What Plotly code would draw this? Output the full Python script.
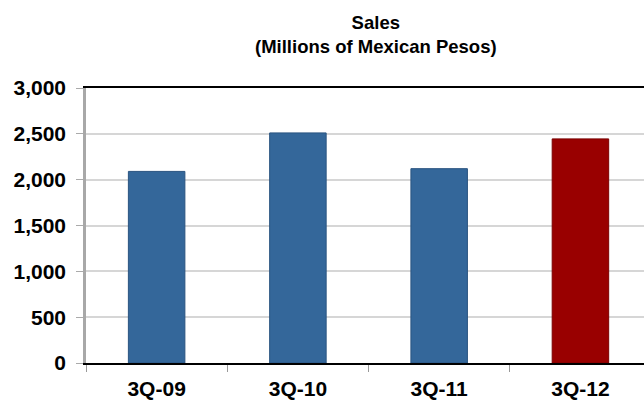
import plotly.graph_objects as go

# Quarterly sales, millions of Mexican pesos
quarters = ["3Q-09", "3Q-10", "3Q-11", "3Q-12"]
sales = [2090, 2510, 2120, 2445]
bar_colors = ["#34679a", "#34679a", "#34679a", "#990000"]
outline_colors = ["#2a5480", "#2a5480", "#2a5480", "#7a0000"]

y_ticks = [0, 500, 1000, 1500, 2000, 2500, 3000]
y_tick_text = ["0", "500", "1,000", "1,500", "2,000", "2,500", "3,000"]

FONT = "Liberation Sans, Arial, Helvetica, sans-serif"

fig = go.Figure(
    go.Bar(
        x=quarters,
        y=sales,
        marker=dict(color=bar_colors, line=dict(color=outline_colors, width=1)),
        width=0.4,
    )
)

fig.update_layout(
    width=644,
    height=402,
    margin=dict(l=86, r=0, t=88, b=39),
    paper_bgcolor="white",
    plot_bgcolor="white",
    showlegend=False,
    font=dict(family=FONT, color="black"),
)

# Two-line chart heading above the plot area
fig.add_annotation(
    text="<b>Sales<br>(Millions of Mexican Pesos)</b>",
    xref="paper",
    yref="paper",
    x=0.52,
    y=1,
    xanchor="center",
    yanchor="bottom",
    yshift=29,
    showarrow=False,
    align="center",
    font=dict(family=FONT, size=18.5, color="black"),
)

fig.update_xaxes(
    range=[-0.5, 3.45],
    automargin=False,
    showline=True,
    linecolor="black",
    linewidth=1.5,
    mirror=True,
    ticks="outside",
    tickson="boundaries",
    ticklen=7,
    tickcolor="#999999",
    showgrid=False,
    tickfont=dict(family=FONT, size=21, color="black", weight="bold"),
    ticklabelstandoff=6,
)

fig.update_yaxes(
    range=[0, 3000],
    tickvals=y_ticks,
    ticktext=y_tick_text,
    showline=True,
    linecolor="#a8a8a8",
    linewidth=2.5,
    ticks="outside",
    ticklen=7,
    tickcolor="#aaaaaa",
    showgrid=True,
    gridcolor="#d6d6d6",
    gridwidth=1.5,
    zeroline=False,
    tickfont=dict(family=FONT, size=21, color="black", weight="bold"),
    ticklabelstandoff=6,
)

fig.write_html("out.html")
